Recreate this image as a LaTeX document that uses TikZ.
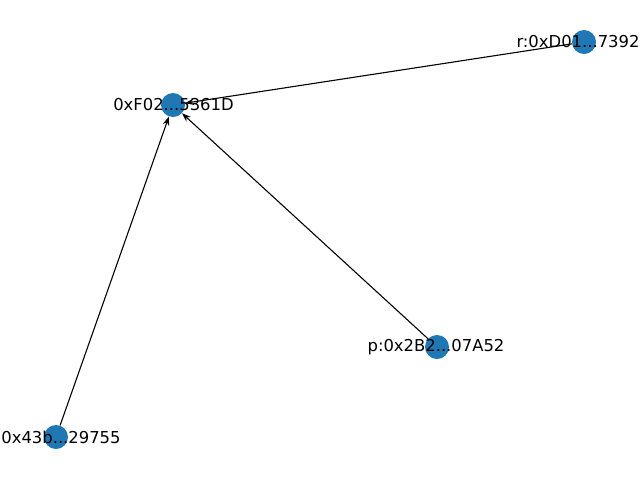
\documentclass[tikz,border=0pt]{standalone}
\usepackage{fontspec}
\setmainfont{DejaVu Sans}
\usetikzlibrary{arrows.meta}
\definecolor{nodeblue}{HTML}{1F77B4}
\begin{document}
\begin{tikzpicture}[x=1pt,y=-1pt,
  dot/.style={circle,fill=nodeblue,minimum size=24pt,inner sep=0pt},
  lbl/.style={font=\fontsize{16.4}{20}\selectfont,inner sep=0pt,text=black},
  edge/.style={-{Stealth[length=9pt,width=6.5pt]},line width=1.1pt,black}]
\useasboundingbox (0,0) rectangle (640,480);
\node[dot] (m) at (173,105) {};
\node[dot] (r) at (584,42) {};
\node[dot] (p) at (437,347) {};
\node[dot] (q) at (56,437) {};
\draw[edge] (r) -- (m);
\draw[edge] (p) -- (m);
\draw[edge] (q) -- (m);
\node[lbl] (ml) at (173.5,105) {0xF02...5361D};
\node[lbl] (rl) at (578,42) {r:0xD01...7392};
\node[lbl] (pl) at (436,347) {p:0x2B2...07A52};
\node[lbl] (ql) at (61,437) {0x43b...29755};
\end{tikzpicture}
\end{document}
